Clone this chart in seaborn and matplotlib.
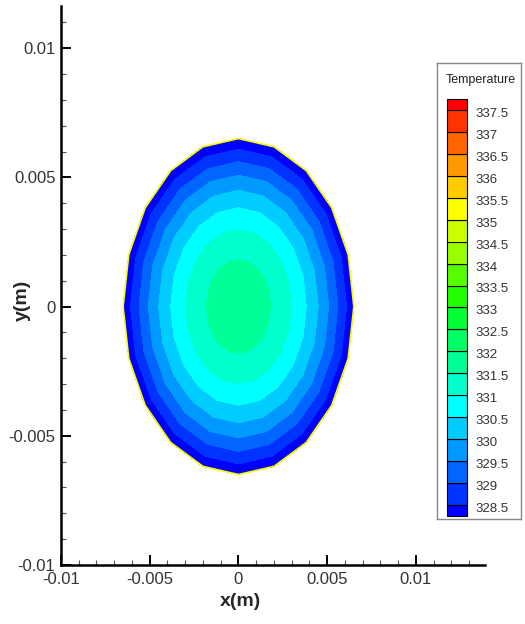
import numpy as np
import matplotlib
matplotlib.use("Agg")
import matplotlib.pyplot as plt
import matplotlib.tri as mtri
from matplotlib.ticker import MultipleLocator, FuncFormatter
import seaborn as sns

# contour levels of the legend (Temperature)
levels = [328.5, 329, 329.5, 330, 330.5, 331, 331.5, 332, 332.5, 333,
          333.5, 334, 334.5, 335, 335.5, 336, 336.5, 337, 337.5]
level_labels = ['328.5', '329', '329.5', '330', '330.5', '331', '331.5', '332', '332.5', '333',
                '333.5', '334', '334.5', '335', '335.5', '336', '336.5', '337', '337.5']
# one colour per band, from below 328.5 up to above 337.5
band_colors = ['#0000ff', '#0033ff', '#0066ff', '#0099ff', '#00ccff', '#00ffff',
               '#00ffcc', '#00ff99', '#00ff66', '#00ff33', '#22ff00', '#55ff00',
               '#99ff00', '#ccff00', '#ffff00', '#ffcc00', '#ff9900', '#ff6600',
               '#ff3300', '#ff0000']

# temperature read along the radius of the disc (radius as a fraction of R)
ring_radius = [0.0, 0.1, 0.2, 0.3, 0.4, 0.5, 0.6, 0.7, 0.8, 0.9, 1.0]
ring_temp = [331.80, 331.76, 331.65, 331.46, 331.20, 330.86, 330.45, 329.96, 329.40, 328.76, 328.05]
disc_radius = 0.0065
n_sectors = 20

sns.set_theme(style="ticks")
plt.rcParams['font.family'] = ['Liberation Sans Narrow', 'Liberation Sans', 'DejaVu Sans']
plt.rcParams['axes.unicode_minus'] = False

# polar mesh of the disc
ang = np.deg2rad(np.arange(n_sectors) * 360.0 / n_sectors)
xs, ys, ts = [0.0], [0.0], [ring_temp[0]]
for r, t in zip(ring_radius[1:], ring_temp[1:]):
    xs.extend(disc_radius * r * np.cos(ang))
    ys.extend(disc_radius * r * np.sin(ang))
    ts.extend([t] * n_sectors)
tri = mtri.Triangulation(xs, ys)

fig = plt.figure(figsize=(5.25, 6.24), dpi=100)
ax = fig.add_axes([61 / 525, 59 / 624, 424 / 525, 559 / 624])

bounds = [levels[0] - 10] + levels + [levels[-1] + 10]
ax.tricontourf(tri, ts, levels=bounds, colors=band_colors)

# mesh boundary
bx = disc_radius * np.cos(np.append(ang, ang[0]))
by = disc_radius * np.sin(np.append(ang, ang[0]))
ax.plot(bx, by, color='#ffff00', lw=1.2)

ax.set_xlim(-0.01, 0.01389)
ax.set_ylim(-0.01, 0.01163)
sns.despine(ax=ax)
for s in ['left', 'bottom']:
    ax.spines[s].set_linewidth(1.8)
    ax.spines[s].set_color('black')
ax.xaxis.set_major_locator(MultipleLocator(0.005))
ax.yaxis.set_major_locator(MultipleLocator(0.005))
ax.xaxis.set_minor_locator(MultipleLocator(0.001))
ax.yaxis.set_minor_locator(MultipleLocator(0.001))
fmt = FuncFormatter(lambda v, p: '%g' % round(v, 6))
ax.xaxis.set_major_formatter(fmt)
ax.yaxis.set_major_formatter(fmt)
ax.tick_params(which='major', direction='in', length=7, width=1.4, color='black',
               labelsize=12, labelcolor='#333333')
ax.tick_params(axis='x', which='major', pad=5)
ax.tick_params(axis='y', which='major', pad=4)
ax.tick_params(which='minor', direction='in', length=3.5, width=0.8, color='#555555')

ax.set_xlabel('x(m)', fontsize=14, fontweight='bold')
ax.set_ylabel('y(m)', fontsize=14, fontweight='bold')
ax.xaxis.set_label_coords((240 - 61) / 424, -0.05)
ax.yaxis.set_label_coords(-0.07, (565 - 300) / 559)

# legend with boxes
lax = fig.add_axes([437 / 525, (624 - 519) / 624, 84 / 525, 456 / 624])
lax.set_xlim(0, 84)
lax.set_ylim(328.18, 338.57)
half = 0.25
lows = [levels[0] - half] + levels
heights = [half] + [levels[i + 1] - levels[i] for i in range(len(levels) - 1)] + [half]
lax.bar([20] * len(lows), heights, bottom=lows, width=20, color=band_colors,
        edgecolor='black', linewidth=0.8)
for lv, lb in zip(levels, level_labels):
    lax.text(38, lv - 0.09, lb, fontsize=9.5, color='#333333', va='center', ha='left')
lax.text(9, 338.18, 'Temperature', fontsize=9, color='#222222', va='center', ha='left')
lax.set_xticks([])
lax.set_yticks([])
for s in lax.spines.values():
    s.set_color('#888888')
    s.set_linewidth(1.0)

fig.savefig('out.png', dpi=100)
